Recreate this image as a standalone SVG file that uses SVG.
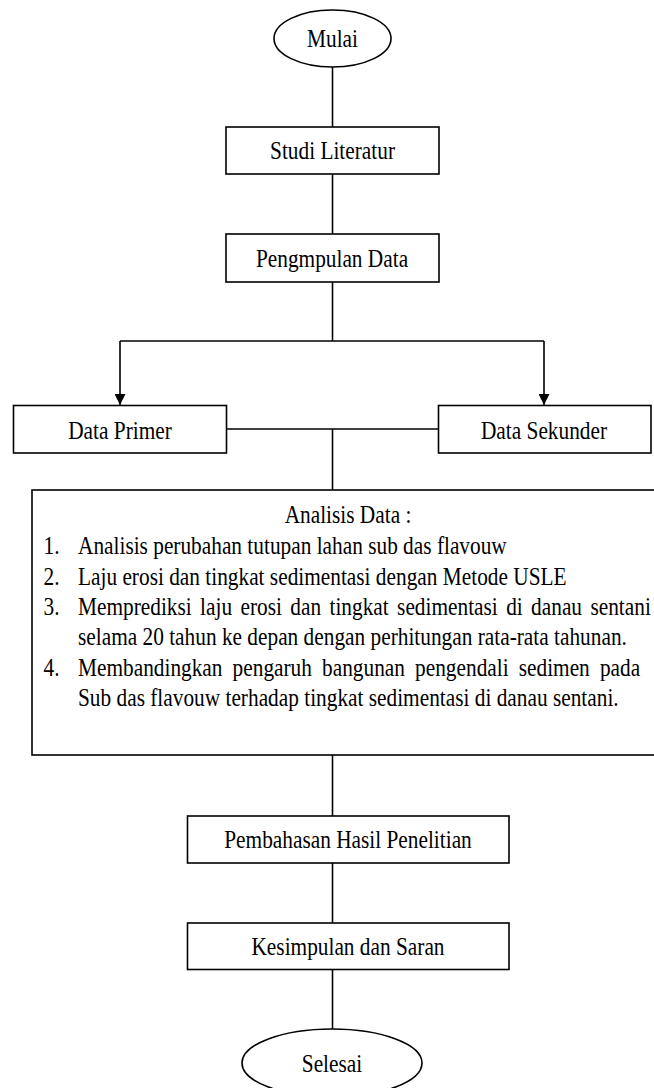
<svg xmlns="http://www.w3.org/2000/svg" width="654" height="1088" viewBox="0 0 654 1088">
<style>
  .box { fill: #fff; stroke: #000; stroke-width: 1.6; }
  .ln { stroke: #000; stroke-width: 1.6; fill: none; }
  .t { font-family: "Liberation Serif", "Times New Roman", serif; font-size: 25.7px; fill: #000; }
  .c { text-anchor: middle; }
</style>
<defs>
  <marker id="arr" viewBox="0 0 10 10" refX="10" refY="5" markerWidth="11" markerHeight="11" markerUnits="userSpaceOnUse" orient="auto">
    <path d="M0,0 L10,5 L0,10 z" fill="#000"/>
  </marker>
</defs>
<rect width="654" height="1088" fill="#fff"/>
<g id="connectors">
  <line class="ln" x1="332.5" y1="67" x2="332.5" y2="127"/>
  <line class="ln" x1="332.5" y1="174" x2="332.5" y2="234"/>
  <line class="ln" x1="332.5" y1="282" x2="332.5" y2="341"/>
  <line class="ln" x1="120" y1="341" x2="544" y2="341"/>
  <line class="ln" x1="120" y1="341" x2="120" y2="405" marker-end="url(#arr)"/>
  <line class="ln" x1="544" y1="341" x2="544" y2="405" marker-end="url(#arr)"/>
  <line class="ln" x1="226" y1="429" x2="439" y2="429"/>
  <line class="ln" x1="332.5" y1="429" x2="332.5" y2="490"/>
  <line class="ln" x1="332.5" y1="755" x2="332.5" y2="816"/>
  <line class="ln" x1="332.5" y1="863" x2="332.5" y2="923"/>
  <line class="ln" x1="332.5" y1="969" x2="332.5" y2="1029"/>
</g>
<g id="mulai">
  <ellipse class="box" cx="332.5" cy="38.5" rx="58.5" ry="28.5"/>
  <text class="t c" transform="translate(332.5,47) scale(0.83,1)">Mulai</text>
</g>
<g id="studi">
  <rect class="box" x="226" y="127" width="213" height="47"/>
  <text class="t c" transform="translate(332.5,158.7) scale(0.83,1)">Studi Literatur</text>
</g>
<g id="pengumpulan">
  <rect class="box" x="226" y="234" width="213" height="48"/>
  <text class="t c" transform="translate(332,266.5) scale(0.83,1)">Pengmpulan Data</text>
</g>
<g id="primer">
  <rect class="box" x="13.5" y="405.5" width="213" height="47.5"/>
  <text class="t c" transform="translate(120,438.5) scale(0.83,1)">Data Primer</text>
</g>
<g id="sekunder">
  <rect class="box" x="438.5" y="405.5" width="212.5" height="47.5"/>
  <text class="t c" transform="translate(544,438.5) scale(0.83,1)">Data Sekunder</text>
</g>
<g id="analisis">
  <rect class="box" x="32" y="490" width="640" height="265"/>
  <text class="t c" transform="translate(348,523) scale(0.83,1)">Analisis Data :</text>
  <text class="t" transform="translate(43.5,554) scale(0.83,1)">1.</text>
  <text class="t" transform="translate(78,554) scale(0.83,1)">Analisis perubahan tutupan lahan sub das flavouw</text>
  <text class="t" transform="translate(43.5,585) scale(0.83,1)">2.</text>
  <text class="t" transform="translate(78,585) scale(0.83,1)">Laju erosi dan tingkat sedimentasi dengan Metode USLE</text>
  <text class="t" transform="translate(43.5,615) scale(0.83,1)">3.</text>
  <text class="t" transform="translate(78,615) scale(0.83,1)" word-spacing="3.68">Memprediksi laju erosi dan tingkat sedimentasi di danau sentani</text>
  <text class="t" transform="translate(78,645) scale(0.83,1)">selama 20 tahun ke depan dengan perhitungan rata-rata tahunan.</text>
  <text class="t" transform="translate(43.5,676) scale(0.83,1)">4.</text>
  <text class="t" transform="translate(78,676) scale(0.83,1)" word-spacing="5.75">Membandingkan pengaruh bangunan pengendali sedimen pada</text>
  <text class="t" transform="translate(78,706) scale(0.83,1)">Sub das flavouw terhadap tingkat sedimentasi di danau sentani.</text>
</g>
<g id="pembahasan">
  <rect class="box" x="187.5" y="816" width="321.5" height="47"/>
  <text class="t c" transform="translate(348,848) scale(0.83,1)">Pembahasan Hasil Penelitian</text>
</g>
<g id="kesimpulan">
  <rect class="box" x="187.5" y="923" width="321.5" height="46.5"/>
  <text class="t c" transform="translate(348,955) scale(0.83,1)">Kesimpulan dan Saran</text>
</g>
<g id="selesai">
  <ellipse class="box" cx="332" cy="1063" rx="90" ry="34"/>
  <text class="t c" transform="translate(332,1071.7) scale(0.83,1)">Selesai</text>
</g>
</svg>
